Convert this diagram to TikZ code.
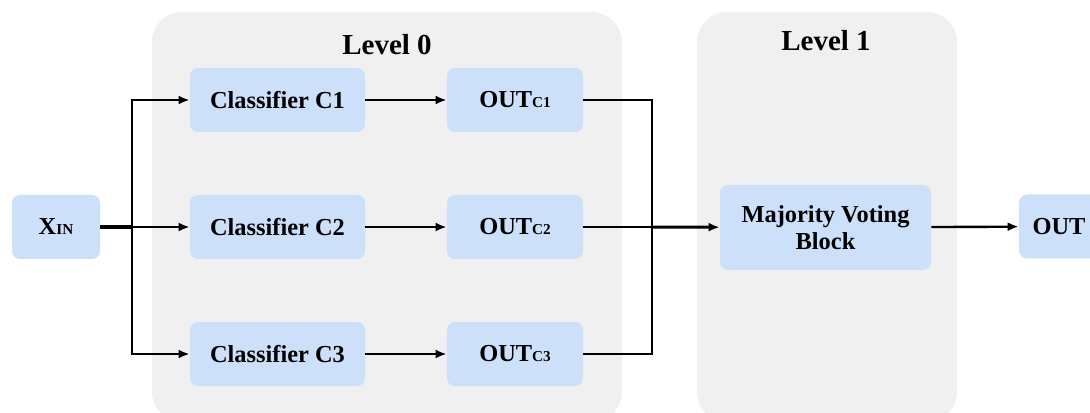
\documentclass[tikz,border=0pt]{standalone}
\usepackage{fontspec}
\setmainfont{Liberation Serif}
\usetikzlibrary{arrows.meta}

\definecolor{boxblau}{RGB}{205,224,250}
\definecolor{feldgrau}{RGB}{240,240,240}
\newcommand{\subtxt}[1]{{\fontsize{7.6}{8}\selectfont #1}}

\begin{document}
\begin{tikzpicture}[x=0.5pt, y=0.5pt,
		block/.style = {rectangle, rounded corners=4pt, fill=boxblau, draw=none,
			minimum height=32pt, inner sep=0pt, align=center,
			font=\fontsize{12.2}{13.5}\selectfont\bfseries},
		feld/.style = {fill=feldgrau, draw=none, rounded corners=15pt},
		titel/.style = {font=\fontsize{14.5}{16}\selectfont\bfseries},
		pfeil/.style = {-{Latex[length=5.5pt,width=4.5pt]}, line width=1.2pt},
		linie/.style = {line width=1.2pt}]
		\useasboundingbox (0,0) rectangle (1090,412);
		
		% Bereiche
		\begin{scope}
			\clip (0,0) rectangle (1090,412);
			\fill[feld] (152,-10) rectangle (622,400);
			\fill[feld] (697,-10) rectangle (957,400);
		\end{scope}
		\node[titel] (lvl0) at (387,367) {Level 0};
		\node[titel] (lvl1) at (826,371) {Level 1};
		
		% Knoten
		\node[block, minimum width=44pt] (xin) at (56,185) {X\subtxt{IN}};
		\foreach \i/\y in {1/312, 2/185, 3/58} {
			\node[block, minimum width=87.5pt] (c\i) at (277.5,\y) {Classifier C\i};
			\node[block, minimum width=68pt] (o\i) at (515,\y) {OUT\subtxt{C\i}};
		}
		\node[block, minimum width=105.5pt, minimum height=42.5pt] (mv) at (825.5,184.5) {Majority Voting\\Block};
		\node[block, minimum width=40pt] (out) at (1059,185.5) {OUT};
		
		\coordinate (split) at (132,185);
		\coordinate (merge) at (652,185);
		
		% Kanten
		\draw[line width=1.8pt] (xin) -- (split);
		\draw[pfeil] (split) |- (c1);
		\draw[pfeil] (split) -- (c2);
		\draw[pfeil] (split) |- (c3);
		\foreach \i in {1,2,3} {
			\draw[pfeil] (c\i) -- (o\i);
		}
		\draw[linie] (o1) -| (merge);
		\draw[linie] (o3) -| (merge);
		\draw[linie] (o2) -- (merge);
		\draw[pfeil, line width=1.5pt] (merge) -- (mv);
		\draw[pfeil] (mv) -- (out);
\end{tikzpicture}
\end{document}
